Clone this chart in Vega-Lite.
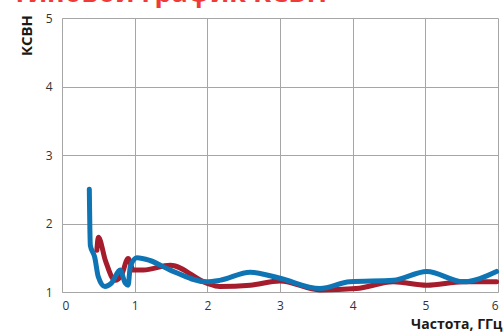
{
  "$schema": "https://vega.github.io/schema/vega-lite/v6.json",
  "width": 436,
  "height": 274,
  "autosize": {"type": "none"},
  "padding": {"left": 62, "top": 18, "right": 5, "bottom": 41},
  "background": "white",
  "title": {
    "text": "Типовой график КСВН",
    "anchor": "start",
    "frame": "group",
    "orient": "top",
    "font": "Open Sans",
    "fontSize": 27,
    "fontWeight": "bold",
    "color": "#f03a3a",
    "baseline": "alphabetic",
    "offset": 0,
    "dx": -50,
    "dy": 17
  },
  "config": {
    "view": {"stroke": null},
    "font": "Open Sans",
    "axis": {
      "grid": true,
      "gridColor": "#a6a6a6",
      "gridWidth": 1,
      "domainColor": "#a6a6a6",
      "ticks": false,
      "labelFont": "Open Sans",
      "labelFontSize": 12,
      "labelColor": "#333333",
      "titleFont": "Open Sans",
      "titleFontSize": 14,
      "titleFontWeight": "bold",
      "titleColor": "#1a1a1a"
    }
  },
  "data": {
    "values": [
      {"f": 0.48, "v": 1.61, "s": "A"},
      {"f": 0.50, "v": 1.80, "s": "A"},
      {"f": 0.60, "v": 1.45, "s": "A"},
      {"f": 0.73, "v": 1.17, "s": "A"},
      {"f": 0.82, "v": 1.25, "s": "A"},
      {"f": 0.91, "v": 1.49, "s": "A"},
      {"f": 0.98, "v": 1.32, "s": "A"},
      {"f": 1.12, "v": 1.32, "s": "A"},
      {"f": 1.49, "v": 1.39, "s": "A"},
      {"f": 1.99, "v": 1.13, "s": "A"},
      {"f": 2.17, "v": 1.08, "s": "A"},
      {"f": 2.59, "v": 1.10, "s": "A"},
      {"f": 3.00, "v": 1.16, "s": "A"},
      {"f": 3.55, "v": 1.03, "s": "A"},
      {"f": 4.05, "v": 1.05, "s": "A"},
      {"f": 4.56, "v": 1.15, "s": "A"},
      {"f": 5.02, "v": 1.10, "s": "A"},
      {"f": 5.52, "v": 1.15, "s": "A"},
      {"f": 5.98, "v": 1.15, "s": "A"},
      {"f": 0.376, "v": 2.50, "s": "B"},
      {"f": 0.39, "v": 1.68, "s": "B"},
      {"f": 0.45, "v": 1.51, "s": "B"},
      {"f": 0.50, "v": 1.22, "s": "B"},
      {"f": 0.59, "v": 1.08, "s": "B"},
      {"f": 0.68, "v": 1.13, "s": "B"},
      {"f": 0.80, "v": 1.32, "s": "B"},
      {"f": 0.87, "v": 1.13, "s": "B"},
      {"f": 0.91, "v": 1.10, "s": "B"},
      {"f": 0.94, "v": 1.37, "s": "B"},
      {"f": 1.03, "v": 1.50, "s": "B"},
      {"f": 1.21, "v": 1.46, "s": "B"},
      {"f": 1.49, "v": 1.32, "s": "B"},
      {"f": 1.99, "v": 1.15, "s": "B"},
      {"f": 2.17, "v": 1.17, "s": "B"},
      {"f": 2.59, "v": 1.29, "s": "B"},
      {"f": 3.00, "v": 1.20, "s": "B"},
      {"f": 3.55, "v": 1.05, "s": "B"},
      {"f": 3.96, "v": 1.15, "s": "B"},
      {"f": 4.56, "v": 1.17, "s": "B"},
      {"f": 5.02, "v": 1.30, "s": "B"},
      {"f": 5.52, "v": 1.15, "s": "B"},
      {"f": 5.98, "v": 1.30, "s": "B"}
    ]
  },
  "mark": {"type": "line", "interpolate": "monotone", "strokeWidth": 5, "clip": false, "strokeCap": "round"},
  "encoding": {
    "x": {
      "field": "f",
      "type": "quantitative",
      "scale": {"domain": [0, 6], "nice": false},
      "axis": {
        "values": [0, 1, 2, 3, 4, 5, 6],
        "labelPadding": 8,
        "title": "Частота, ГГц",
        "titleAnchor": "end",
        "titleAlign": "right",
        "titleBaseline": "alphabetic",
        "titleX": 440,
        "titleY": 36
      }
    },
    "y": {
      "field": "v",
      "type": "quantitative",
      "scale": {"domain": [1, 5], "nice": false, "zero": false},
      "axis": {
        "values": [1, 2, 3, 4, 5],
        "labelPadding": 10,
        "title": "КСВН",
        "titleFontSize": 15,
        "titleAngle": 270,
        "titleAlign": "center",
        "titleBaseline": "middle",
        "titleX": -36,
        "titleY": 17
      }
    },
    "color": {
      "field": "s",
      "type": "nominal",
      "scale": {"domain": ["A", "B"], "range": ["#a51d2d", "#0e74b3"]},
      "legend": null
    }
  }
}
